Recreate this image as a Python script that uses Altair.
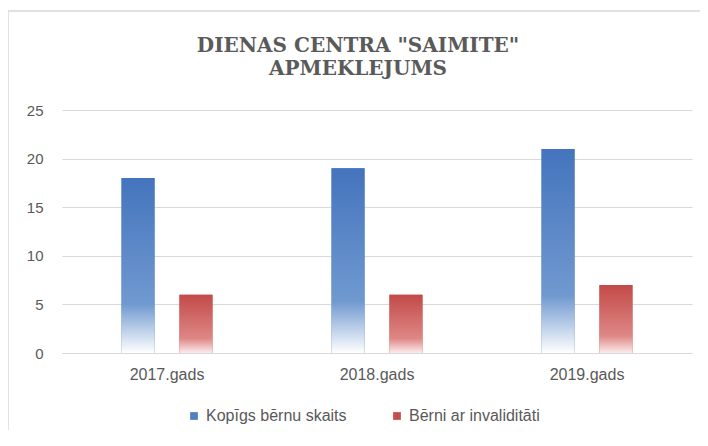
import altair as alt
import pandas as pd

years = ["2017.gads", "2018.gads", "2019.gads"]
series_names = ["Kopīgs bērnu skaits", "Bērni ar invaliditāti"]
total_children = [18, 19, 21]
disabled_children = [6, 6, 7]
y_ticks = [0, 5, 10, 15, 20, 25]
title_lines = ["DIENAS CENTRA \"SAIMITE\"", "APMEKLEJUMS"]

rows = []
for i, yr in enumerate(years):
    rows.append({"year": yr, "series": series_names[0], "value": total_children[i]})
    rows.append({"year": yr, "series": series_names[1], "value": disabled_children[i]})
df = pd.DataFrame(rows)

blue_grad = alt.Gradient(
    gradient="linear", x1=0, y1=0, x2=0, y2=1,
    stops=[alt.GradientStop(offset=0, color="#4474bd"),
           alt.GradientStop(offset=0.72, color="#7099d0"),
           alt.GradientStop(offset=1, color="#ffffff")])
red_grad = alt.Gradient(
    gradient="linear", x1=0, y1=0, x2=0, y2=1,
    stops=[alt.GradientStop(offset=0, color="#c24a48"),
           alt.GradientStop(offset=0.75, color="#de8785"),
           alt.GradientStop(offset=1, color="#fcecec")])

font = "Liberation Sans"
gray = "#595959"

x_enc = alt.X("year:N", sort=years,
              scale=alt.Scale(paddingInner=0.567, paddingOuter=0.2835),
              axis=alt.Axis(title=None, labelAngle=0, domain=True, domainColor="#d9d9d9",
                            ticks=False, labelPadding=13, labelFontSize=16,
                            labelColor=gray, labelFont=font))
xo_enc = alt.XOffset("series:N", sort=series_names,
                     scale=alt.Scale(paddingInner=0.43, paddingOuter=0))
y_enc = alt.Y("value:Q", scale=alt.Scale(domain=[0, 25], nice=False),
              axis=alt.Axis(title=None, values=y_ticks, domain=False, ticks=False,
                            grid=True, gridColor="#d9d9d9", labelPadding=19,
                            labelFontSize=15, labelColor=gray, labelFont=font))

base = alt.Chart(df).mark_bar().encode(
    x=x_enc, xOffset=xo_enc, y=y_enc,
    color=alt.Color("series:N", sort=series_names,
                    scale=alt.Scale(domain=series_names, range=["#4f81bd", "#c0504d"]),
                    legend=alt.Legend(title=None, orient="none", direction="horizontal",
                                      legendX=124, legendY=298, symbolType="square",
                                      symbolSize=60, labelFontSize=16, labelColor=gray,
                                      labelFont=font, columnPadding=42, symbolOffset=0,
                                      labelOffset=4)))

blue_layer = alt.Chart(df).transform_filter(
    alt.datum.series == series_names[0]).mark_bar(fill=blue_grad).encode(
    x=x_enc, xOffset=xo_enc, y=y_enc)
red_layer = alt.Chart(df).transform_filter(
    alt.datum.series == series_names[1]).mark_bar(fill=red_grad).encode(
    x=x_enc, xOffset=xo_enc, y=y_enc)

border = alt.Chart(pd.DataFrame({"a": [0]})).mark_rect(
    fill=None, stroke="#d9d9d9", strokeWidth=1.5, clip=False).encode(
    x=alt.value(-54), x2=alt.value(640), y=alt.value(-99), y2=alt.value(332))

title = alt.Chart(pd.DataFrame({"a": [0]})).mark_text(
    text=title_lines, font="DejaVu Serif", fontSize=20, fontWeight="bold",
    color="#5a5a5a", lineHeight=23, align="center", baseline="alphabetic",
    clip=False).encode(x=alt.value(296), y=alt.value(-58))

chart = alt.layer(border, title, base, blue_layer, red_layer).properties(
    width=630, height=243,
    autosize=alt.AutoSizeParams(type="none"),
    padding={"left": 54, "top": 102, "right": 8, "bottom": 77},
).configure_view(stroke=None)

chart.save("out.html", embed_options={"renderer": "svg", "actions": False})
